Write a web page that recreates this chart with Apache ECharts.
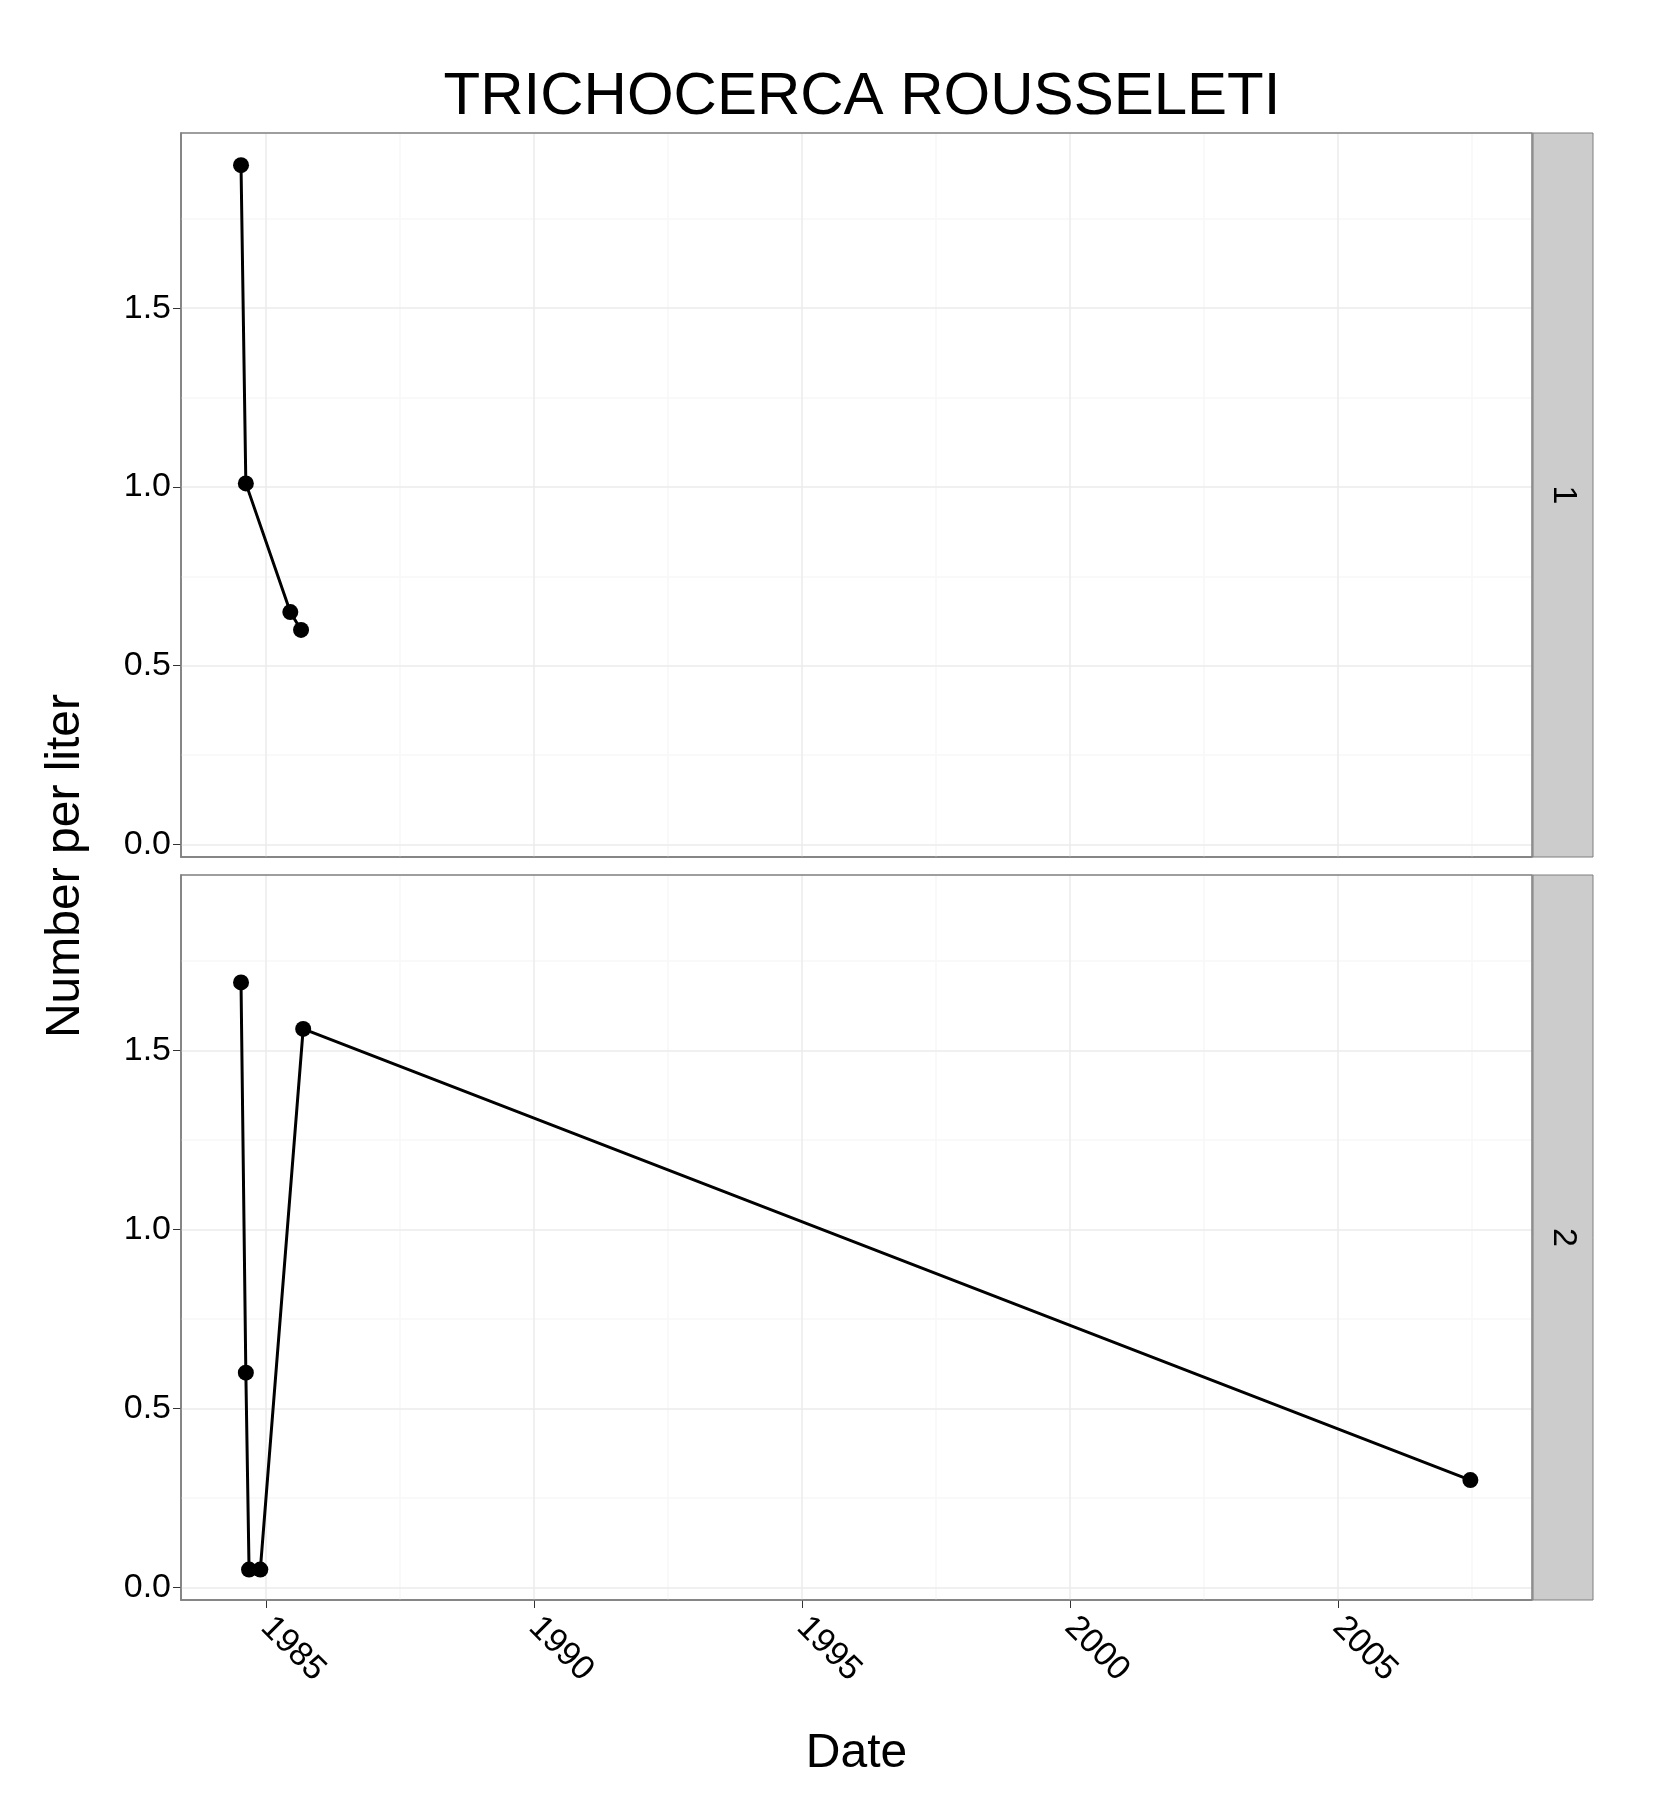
<!DOCTYPE html>
<html><head><meta charset="utf-8">
<script src="https://cdn.jsdelivr.net/npm/echarts@6/dist/echarts.min.js"></script>
<style>html,body{margin:0;background:#fff}#c{width:1662px;height:1820px}</style>
</head><body><div id="c"></div>
<script>
const panel1 = [[1984.53, 1.90], [1984.62, 1.01], [1985.45, 0.65], [1985.65, 0.60]];
const panel2 = [[1984.53, 1.69], [1984.62, 0.60], [1984.68, 0.05], [1984.89, 0.05], [1985.69, 1.56], [2007.47, 0.30]];
const xTicks = [1985, 1990, 1995, 2000, 2005];
const xMinor = [1987.5, 1992.5, 1997.5, 2002.5, 2007.5];
const yTicks = [0, 0.5, 1.0, 1.5];
const yMinor = [0.25, 0.75, 1.25, 1.75];
const xMin = 1983.41, xMax = 2008.62, yMin = -0.035, yMax = 1.99;

const chart = echarts.init(document.getElementById('c'));
const font = 'Liberation Sans, Arial, sans-serif';
const grids = [
  { left: 181, width: 1351, top: 133, height: 724 },
  { left: 181, width: 1351, top: 875, height: 725 }
];
function gridLines(vals, axis, color) {
  return vals.map(v => axis === 'x' ? { xAxis: v } : { yAxis: v })
    .map(d => Object.assign(d, { lineStyle: { color: color, width: 1.5, type: 'solid' } }));
}
function xAxis(i) {
  return {
    gridIndex: i, type: 'value', min: xMin, max: xMax,
    splitLine: { show: false },
    axisLine: { show: true, onZero: false, lineStyle: { color: '#7f7f7f', width: 1.5 } },
    axisTick: { show: i === 1, customValues: xTicks, length: 8, lineStyle: { color: '#333' } },
    axisLabel: { show: i === 1, customValues: xTicks, rotate: -45, fontSize: 34, color: '#000',
      fontFamily: font, margin: 22, formatter: v => String(v) },
    name: i === 1 ? 'Date' : '', nameLocation: 'middle', nameGap: 130,
    nameTextStyle: { fontSize: 48, color: '#000', fontFamily: font }
  };
}
function yAxis(i) {
  return {
    gridIndex: i, type: 'value', min: yMin, max: yMax,
    splitLine: { show: false },
    axisLine: { show: true, onZero: false, lineStyle: { color: '#7f7f7f', width: 1.5 } },
    axisTick: { show: true, customValues: yTicks, length: 8, lineStyle: { color: '#333' } },
    axisLabel: { customValues: yTicks, fontSize: 34, color: '#000', fontFamily: font,
      formatter: v => v.toFixed(1), margin: 10 }
  };
}
function series(i, data) {
  const minorC = '#f7f7f7', majorC = '#ebebeb';
  return [{
    type: 'line', xAxisIndex: i, yAxisIndex: i, data: [], silent: true,
    markLine: { silent: true, symbol: 'none', label: { show: false }, animation: false,
      data: gridLines(xMinor, 'x', minorC).concat(gridLines(yMinor, 'y', minorC),
        gridLines(xTicks, 'x', majorC), gridLines(yTicks, 'y', majorC)) }
  }, {
    type: 'line', xAxisIndex: i, yAxisIndex: i, data: data,
    symbol: 'circle', symbolSize: 16, z: 5,
    itemStyle: { color: '#000' }, lineStyle: { color: '#000', width: 3 }
  }];
}
function strip(g, label) {
  return [
    { type: 'rect', shape: { x: g.left + g.width + 1, y: g.top, width: 60, height: g.height },
      style: { fill: '#cccccc', stroke: '#7f7f7f', lineWidth: 1 } },
    { type: 'text', x: g.left + g.width + 31, y: g.top + g.height / 2, rotation: -Math.PI / 2,
      style: { text: label, fontSize: 34, fontFamily: font, fill: '#000', align: 'center', verticalAlign: 'middle' } },
    { type: 'rect', shape: { x: g.left, y: g.top, width: g.width, height: g.height }, z: 100,
      style: { fill: 'none', stroke: '#7f7f7f', lineWidth: 1.5 } }
  ];
}
chart.setOption({
  animation: false,
  backgroundColor: '#fff',
  title: { text: 'TRICHOCERCA ROUSSELETI', left: 857, top: 62, textAlign: 'center',
    textStyle: { fontSize: 60, fontWeight: 'normal', color: '#000', fontFamily: font } },
  grid: grids,
  xAxis: [xAxis(0), xAxis(1)],
  yAxis: [yAxis(0), yAxis(1)],
  series: series(0, panel1).concat(series(1, panel2)),
  graphic: strip(grids[0], '1').concat(strip(grids[1], '2'), [
    { type: 'text', x: 66, y: 866, rotation: Math.PI / 2,
      style: { text: 'Number per liter', fontSize: 48, fontFamily: font, fill: '#000', align: 'center', verticalAlign: 'middle' } }
  ])
});
</script></body></html>
